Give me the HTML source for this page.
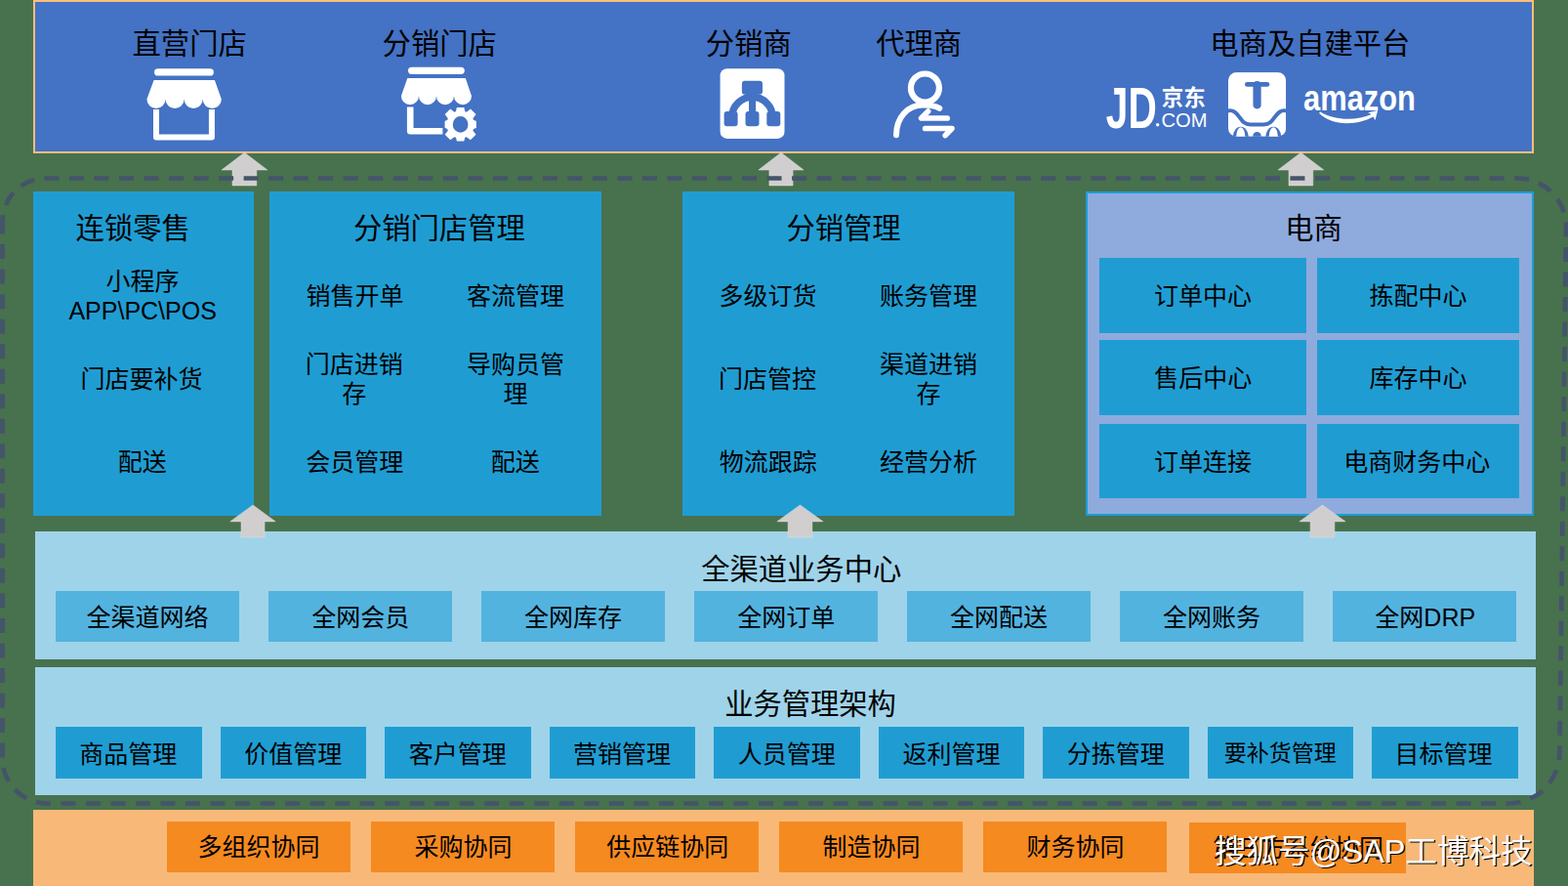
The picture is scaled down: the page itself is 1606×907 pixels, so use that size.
<!DOCTYPE html>
<html lang="zh-CN">
<head>
<meta charset="utf-8">
<title>全渠道业务中心架构图</title>
<style>
html,body{margin:0;padding:0}
body{width:1606px;height:907px;overflow:hidden;background:#48714E;font-family:"Liberation Sans","Noto Sans CJK SC",sans-serif}
#stage{position:relative;width:1606px;height:907px;overflow:hidden;background:#48714E}
.b{position:absolute;box-sizing:content-box}
.t{position:absolute;margin:0;white-space:nowrap;text-align:center;color:#000;overflow:visible;font-family:"Liberation Sans","Noto Sans CJK SC",sans-serif}
.t.wm{color:#fff;text-shadow:1.2px 1.2px 0 #000}
.ov{position:absolute;left:0;top:0}
.ic{position:absolute;left:0;top:0}
</style>
</head>
<body>
<div id="stage">
<div class="b" style="left:34px;top:0;width:1533px;height:153px;background:#4472C4;border:2px solid #FBBE7A"></div>
<div class="t" style="left:135.2px;top:26.92px;width:117.9px;height:35.16px;font-size:29.3px;line-height:35.16px">直营门店</div>
<div class="t" style="left:391.28px;top:26.92px;width:117.9px;height:35.16px;font-size:29.3px;line-height:35.16px">分销门店</div>
<div class="t" style="left:722.52px;top:26.92px;width:88.43px;height:35.16px;font-size:29.3px;line-height:35.16px">分销商</div>
<div class="t" style="left:896.86px;top:26.92px;width:88.43px;height:35.16px;font-size:29.3px;line-height:35.16px">代理商</div>
<div class="t" style="left:1238.68px;top:26.92px;width:206.33px;height:35.16px;font-size:29.3px;line-height:35.16px">电商及自建平台</div>
<svg class="ic" width="1606" height="160" viewBox="0 0 1606 160" aria-hidden="true">
<g fill="#fff">
<rect x="158" y="70.2" width="60.9" height="7.4" rx="3.7"/>
<path d="M157.6 81.9 H219.9 L226.8 101.45 A9.55 9.55 0 0 1 207.7 101.45 A9.55 9.55 0 0 1 188.6 101.45 A9.55 9.55 0 0 1 169.5 101.45 A9.55 9.55 0 0 1 150.4 101.45 Z"/>
<path d="M160 112 V140.6 H216.9 V112" fill="none" stroke="#fff" stroke-width="6" stroke-linejoin="round"/>
<rect x="418" y="68.7" width="57.8" height="7.2" rx="3.6"/>
<path d="M417.3 79.9 H476.8 L483 98.2 A9.01 9.01 0 0 1 464.98 98.2 A9.01 9.01 0 0 1 446.95 98.2 A9.01 9.01 0 0 1 428.93 98.2 A9.01 9.01 0 0 1 410.9 98.2 Z"/>
<path d="M420.2 109.6 V134.3 H453.4" fill="none" stroke="#fff" stroke-width="6.6" stroke-linejoin="round"/>
<path d="M467 113.97 L467.83 109.9 L475.37 109.9 L476.2 113.97 L477.85 114.65 L481.91 111.44 L487.56 117.09 L484.35 121.15 L485.03 122.8 L487.83 123.91 L487.83 130.89 L485.03 132 L484.35 133.65 L487.56 137.71 L481.91 143.36 L477.85 140.15 L476.2 140.83 L475.3 144.61 L467.9 144.61 L467 140.83 L465.35 140.15 L461.29 143.36 L455.64 137.71 L458.85 133.65 L458.17 132 L455.57 130.85 L455.57 123.95 L458.17 122.8 L458.85 121.15 L455.64 117.09 L461.29 111.44 L465.35 114.65 Z M463.75 127.4 a7.85 8.4 0 1 0 15.7 0 a7.85 8.4 0 1 0 -15.7 0 Z" fill-rule="evenodd"/>
<rect x="737.6" y="70.2" width="65.9" height="71.7" rx="7"/>
</g><g fill="#4472C4">
<rect x="759.9" y="82.7" width="21.1" height="14" rx="3"/>
<rect x="741.6" y="113.9" width="14" height="15.3" rx="3"/>
<rect x="763.5" y="113.9" width="14" height="15.3" rx="3"/>
<rect x="785.3" y="113.9" width="14" height="15.3" rx="3"/>
<rect x="767" y="95" width="7.1" height="21"/>
<path d="M749.75 120 A20.75 20.75 0 0 1 791.25 120" fill="none" stroke="#4472C4" stroke-width="7.3"/>
</g>
<g fill="none" stroke="#fff" stroke-linecap="round" stroke-linejoin="round">
<circle cx="947.4" cy="90" r="14.5" stroke-width="6.2"/>
<path d="M918 138.2 C918 120.5 929.5 107.6 945.5 107.6 C952.5 107.6 958 108.6 962.3 110.8" stroke-width="6"/>
<path d="M950.6 114 L943.6 121 H970.2 M947.6 131.5 H975 L968.2 138.6" stroke-width="5.7"/>
</g>
<text x="1132.8" y="130.6" font-family="&quot;Liberation Sans&quot;,sans-serif" font-weight="bold" font-size="58.6" fill="#fff" textLength="52" lengthAdjust="spacingAndGlyphs">JD</text>
<text x="1189.7" y="107.7" font-family="&quot;Liberation Sans&quot;,&quot;Noto Sans CJK SC&quot;,sans-serif" font-weight="bold" font-size="22.5" fill="#fff">京东</text>
<text x="1189.5" y="130.1" font-family="&quot;Liberation Sans&quot;,sans-serif" font-size="21" fill="#fff" textLength="47" lengthAdjust="spacingAndGlyphs">COM</text>
<circle cx="1185.7" cy="127.7" r="1.7" fill="#fff"/>
<clipPath id="tm"><rect x="1258" y="74.1" width="59.2" height="65.7" rx="8.5"/></clipPath>
<g clip-path="url(#tm)">
<rect x="1258" y="74.1" width="59.2" height="65.7" fill="#fff"/>
<g fill="none" stroke="#4472C4" stroke-linecap="round">
<path d="M1277.3 86.4 H1298" stroke-width="4.6"/>
<path d="M1287.55 87 V107.3" stroke-width="8.2"/>
<path d="M1254 116 C1257 112.6 1261.5 112.6 1264.6 114.7 C1270.6 118.6 1271.4 127.4 1280.6 127.4 H1294.5 C1303.7 127.4 1304.5 118.6 1310.5 114.7 C1313.6 112.6 1318 112.6 1321 116" stroke-width="4"/>
</g>
<ellipse cx="1270.8" cy="141" rx="8.1" ry="11.3" fill="#4472C4"/><ellipse cx="1270.8" cy="141" rx="4.6" ry="10.8" fill="#fff"/>
<ellipse cx="1304.3" cy="141" rx="8.1" ry="11.3" fill="#4472C4"/><ellipse cx="1304.3" cy="141" rx="4.6" ry="10.8" fill="#fff"/>
<circle cx="1287.5" cy="139.3" r="4.2" fill="#4472C4"/>
</g>
<text x="1335" y="113" font-family="&quot;Liberation Sans&quot;,sans-serif" font-weight="bold" font-size="36" fill="#fff" textLength="115" lengthAdjust="spacingAndGlyphs">amazon</text>
<path d="M1352 114.3 C1360.5 119.9 1372 121.9 1380.5 121.8 C1389.5 121.7 1398 119.9 1404.6 116.9 L1401.2 115.2 L1411.2 113 L1408.4 123.2 L1406.6 119.6 C1398 124.2 1389.5 126.2 1379.8 126.2 C1368 126.2 1357.5 122.1 1351.2 115.9 Z" fill="#fff"/>
</svg>
<div class="b" style="left:34px;top:196px;width:226px;height:332px;background:#1F9DD3"></div>
<div class="b" style="left:276px;top:196px;width:340px;height:332px;background:#1F9DD3"></div>
<div class="b" style="left:699px;top:196px;width:340px;height:332px;background:#1F9DD3"></div>
<div class="b" style="left:1112px;top:196px;width:455px;height:328px;background:#8FAADC;border:2px solid #1B9DD9"></div>
<div class="t" style="left:77.25px;top:216.42px;width:117.9px;height:35.16px;font-size:29.3px;line-height:35.16px">连锁零售</div>
<div class="t" style="left:70.42px;top:273.4px;width:151.42px;height:60px;font-size:25px;line-height:30px">小程序<br>APP\PC\POS</div>
<div class="t" style="left:82.05px;top:372.6px;width:125.75px;height:30px;font-size:25px;line-height:30px">门店要补货</div>
<div class="t" style="left:120.49px;top:457.6px;width:50.3px;height:30px;font-size:25px;line-height:30px">配送</div>
<div class="t" style="left:361.41px;top:216.22px;width:176.85px;height:35.16px;font-size:29.3px;line-height:35.16px">分销门店管理</div>
<div class="t" style="left:313.28px;top:288px;width:100.6px;height:30px;font-size:25px;line-height:30px">销售开单</div>
<div class="t" style="left:477.77px;top:288px;width:100.6px;height:30px;font-size:25px;line-height:30px">客流管理</div>
<div class="t" style="left:312.52px;top:357.5px;width:100.6px;height:60px;font-size:25px;line-height:30px">门店进销<br>存</div>
<div class="t" style="left:477.77px;top:357.5px;width:100.6px;height:60px;font-size:25px;line-height:30px">导购员管<br>理</div>
<div class="t" style="left:312.99px;top:457.6px;width:100.6px;height:30px;font-size:25px;line-height:30px">会员管理</div>
<div class="t" style="left:502.59px;top:457.6px;width:50.3px;height:30px;font-size:25px;line-height:30px">配送</div>
<div class="t" style="left:805.09px;top:216.22px;width:117.9px;height:35.16px;font-size:29.3px;line-height:35.16px">分销管理</div>
<div class="t" style="left:736.25px;top:288px;width:100.6px;height:30px;font-size:25px;line-height:30px">多级订货</div>
<div class="t" style="left:900.65px;top:288px;width:100.6px;height:30px;font-size:25px;line-height:30px">账务管理</div>
<div class="t" style="left:735.78px;top:372.5px;width:100.6px;height:30px;font-size:25px;line-height:30px">门店管控</div>
<div class="t" style="left:900.83px;top:357.5px;width:100.6px;height:60px;font-size:25px;line-height:30px">渠道进销<br>存</div>
<div class="t" style="left:736.53px;top:457.6px;width:100.6px;height:30px;font-size:25px;line-height:30px">物流跟踪</div>
<div class="t" style="left:900.84px;top:457.6px;width:100.6px;height:30px;font-size:25px;line-height:30px">经营分析</div>
<div class="t" style="left:1316.15px;top:216.22px;width:58.95px;height:35.16px;font-size:29.3px;line-height:35.16px">电商</div>
<div class="b" style="left:1126.1px;top:264.2px;width:212px;height:76.6px;background:#1F9DD3"></div>
<div class="t" style="left:1181.8px;top:288px;width:100.6px;height:30px;font-size:25px;line-height:30px">订单中心</div>
<div class="b" style="left:1349px;top:264.2px;width:207.1px;height:76.6px;background:#1F9DD3"></div>
<div class="t" style="left:1402.18px;top:288px;width:100.6px;height:30px;font-size:25px;line-height:30px">拣配中心</div>
<div class="b" style="left:1126.1px;top:348.3px;width:212px;height:76.6px;background:#1F9DD3"></div>
<div class="t" style="left:1182.03px;top:372.4px;width:100.6px;height:30px;font-size:25px;line-height:30px">售后中心</div>
<div class="b" style="left:1349px;top:348.3px;width:207.1px;height:76.6px;background:#1F9DD3"></div>
<div class="t" style="left:1402.14px;top:372.4px;width:100.6px;height:30px;font-size:25px;line-height:30px">库存中心</div>
<div class="b" style="left:1126.1px;top:434px;width:212px;height:75.7px;background:#1F9DD3"></div>
<div class="t" style="left:1181.84px;top:457.6px;width:100.6px;height:30px;font-size:25px;line-height:30px">订单连接</div>
<div class="b" style="left:1349px;top:434px;width:207.1px;height:75.7px;background:#1F9DD3"></div>
<div class="t" style="left:1375.79px;top:457.6px;width:150.9px;height:30px;font-size:25px;line-height:30px">电商财务中心</div>
<div class="b" style="left:36px;top:544px;width:1537px;height:130.5px;background:#9FD3E9"></div>
<div class="t" style="left:717.55px;top:564.52px;width:206.33px;height:35.16px;font-size:29.3px;line-height:35.16px">全渠道业务中心</div>
<div class="b" style="left:57px;top:605.1px;width:187.8px;height:51.5px;background:#53B3DF"></div>
<div class="t" style="left:88.15px;top:616.7px;width:125.75px;height:30px;font-size:25px;line-height:30px">全渠道网络</div>
<div class="b" style="left:275px;top:605.1px;width:187.8px;height:51.5px;background:#53B3DF"></div>
<div class="t" style="left:319.08px;top:616.7px;width:100.6px;height:30px;font-size:25px;line-height:30px">全网会员</div>
<div class="b" style="left:493px;top:605.1px;width:187.8px;height:51.5px;background:#53B3DF"></div>
<div class="t" style="left:536.81px;top:616.7px;width:100.6px;height:30px;font-size:25px;line-height:30px">全网库存</div>
<div class="b" style="left:711px;top:605.1px;width:187.8px;height:51.5px;background:#53B3DF"></div>
<div class="t" style="left:754.91px;top:616.7px;width:100.6px;height:30px;font-size:25px;line-height:30px">全网订单</div>
<div class="b" style="left:929px;top:605.1px;width:187.8px;height:51.5px;background:#53B3DF"></div>
<div class="t" style="left:972.63px;top:616.7px;width:100.6px;height:30px;font-size:25px;line-height:30px">全网配送</div>
<div class="b" style="left:1147px;top:605.1px;width:187.8px;height:51.5px;background:#53B3DF"></div>
<div class="t" style="left:1190.76px;top:616.7px;width:100.6px;height:30px;font-size:25px;line-height:30px">全网账务</div>
<div class="b" style="left:1365px;top:605.1px;width:187.8px;height:51.5px;background:#53B3DF"></div>
<div class="t" style="left:1408.36px;top:616.7px;width:101.77px;height:30px;font-size:25px;line-height:30px">全网DRP</div>
<div class="b" style="left:36px;top:683.3px;width:1537px;height:130.6px;background:#9FD3E9"></div>
<div class="t" style="left:741.6px;top:703.42px;width:176.85px;height:35.16px;font-size:29.3px;line-height:35.16px">业务管理架构</div>
<div class="b" style="left:57px;top:743.6px;width:149.5px;height:53px;background:#1F9DD3"></div>
<div class="t" style="left:81.05px;top:756.6px;width:100.6px;height:30px;font-size:25px;line-height:30px">商品管理</div>
<div class="b" style="left:225.55px;top:743.6px;width:149.5px;height:53px;background:#1F9DD3"></div>
<div class="t" style="left:249.9px;top:756.6px;width:100.6px;height:30px;font-size:25px;line-height:30px">价值管理</div>
<div class="b" style="left:394.1px;top:743.6px;width:149.5px;height:53px;background:#1F9DD3"></div>
<div class="t" style="left:418.47px;top:756.6px;width:100.6px;height:30px;font-size:25px;line-height:30px">客户管理</div>
<div class="b" style="left:562.65px;top:743.6px;width:149.5px;height:53px;background:#1F9DD3"></div>
<div class="t" style="left:586.69px;top:756.6px;width:100.6px;height:30px;font-size:25px;line-height:30px">营销管理</div>
<div class="b" style="left:731.2px;top:743.6px;width:149.5px;height:53px;background:#1F9DD3"></div>
<div class="t" style="left:755.47px;top:756.6px;width:100.6px;height:30px;font-size:25px;line-height:30px">人员管理</div>
<div class="b" style="left:899.75px;top:743.6px;width:149.5px;height:53px;background:#1F9DD3"></div>
<div class="t" style="left:924.16px;top:756.6px;width:100.6px;height:30px;font-size:25px;line-height:30px">返利管理</div>
<div class="b" style="left:1068.3px;top:743.6px;width:149.5px;height:53px;background:#1F9DD3"></div>
<div class="t" style="left:1092.56px;top:756.6px;width:100.6px;height:30px;font-size:25px;line-height:30px">分拣管理</div>
<div class="b" style="left:1236.85px;top:743.6px;width:149.5px;height:53px;background:#1F9DD3"></div>
<div class="t" style="left:1253.46px;top:757.8px;width:115.69px;height:27.6px;font-size:23px;line-height:27.6px">要补货管理</div>
<div class="b" style="left:1405.4px;top:743.6px;width:149.5px;height:53px;background:#1F9DD3"></div>
<div class="t" style="left:1428.23px;top:756.6px;width:100.6px;height:30px;font-size:25px;line-height:30px">目标管理</div>
<div class="b" style="left:34px;top:829px;width:1537.3px;height:78px;background:#F8B978"></div>
<div class="b" style="left:171px;top:841px;width:188px;height:51.7px;background:#F58A20"></div>
<div class="t" style="left:202.26px;top:852px;width:125.75px;height:30px;font-size:25px;line-height:30px">多组织协同</div>
<div class="b" style="left:379.95px;top:841px;width:188px;height:51.7px;background:#F58A20"></div>
<div class="t" style="left:424.3px;top:852px;width:100.6px;height:30px;font-size:25px;line-height:30px">采购协同</div>
<div class="b" style="left:588.9px;top:841px;width:188px;height:51.7px;background:#F58A20"></div>
<div class="t" style="left:620.84px;top:852px;width:125.75px;height:30px;font-size:25px;line-height:30px">供应链协同</div>
<div class="b" style="left:797.85px;top:841px;width:188px;height:51.7px;background:#F58A20"></div>
<div class="t" style="left:842.12px;top:852px;width:100.6px;height:30px;font-size:25px;line-height:30px">制造协同</div>
<div class="b" style="left:1006.8px;top:841px;width:188px;height:51.7px;background:#F58A20"></div>
<div class="t" style="left:1051.15px;top:852px;width:100.6px;height:30px;font-size:25px;line-height:30px">财务协同</div>
<div class="b" style="left:1218px;top:842.4px;width:222px;height:51.3px;background:#F58A20"></div>
<div class="t" style="left:1241.48px;top:853.2px;width:176.05px;height:30px;font-size:25px;line-height:30px">第三方系统协同</div>
<svg class="ov" width="1606" height="907" viewBox="0 0 1606 907" aria-hidden="true"><path d="M250.4 156.2 L273.8 174 H262.8 V190 H238 V174 H227 Z M800 156.2 L823.1 174 H812.1 V190 H787.9 V174 H776.9 Z M1332.4 156.2 L1355.8 174 H1344.8 V190 H1320 V174 H1309 Z M259 517 L282.2 533.9 H271 V550 H247 V533.9 H235.8 Z M819.5 517 L843.1 533.9 H831.9 V550 H807.1 V533.9 H795.9 Z M1354.5 517 L1378.1 533.9 H1366.9 V550 H1342.1 V533.9 H1330.9 Z" fill="#D0CECE" stroke="#E2E0E0" stroke-width="0.5"/><g fill="none" stroke="#44546A" stroke-width="4.7" stroke-dasharray="15 10.52"><path d="M2.5 226.5 A44 44 0 0 1 46.5 182.5 H1554.5 A49.6 49.6 0 0 1 1604.1 232.1 L1597.4 770.5" stroke-dashoffset="-16.92"/><path d="M1597.4 770.5 A52 52 0 0 1 1545.4 822.5 H48.5 A46 46 0 0 1 2.5 776.5 V226.5" stroke-dashoffset="-18.32"/></g></svg>
<div class="t wm" style="left:1244px;top:850px;width:324px;height:44px;font-size:32.5px;line-height:44px">搜狐号@SAP工博科技</div>
</div>
</body>
</html>
